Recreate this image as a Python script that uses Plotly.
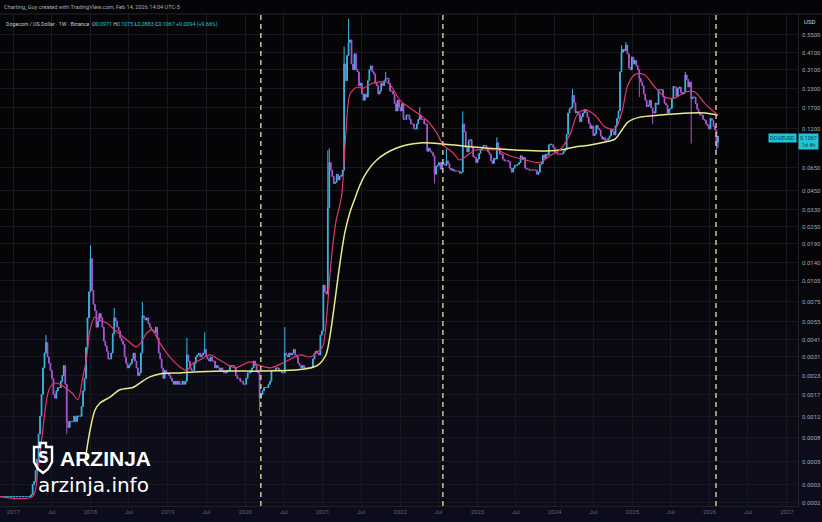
import math
import pandas as pd
import plotly.graph_objects as go

# ---------------- weekly closes (DOGE/USD, log chart) ----------------
close_2016 = [0.00033, 0.00033, 0.00033, 0.00033, 0.00033, 0.00033, 0.00033, 0.00033, 0.00033]
close_2017 = [0.00033, 0.00033, 0.00033, 0.00033, 0.00033,
              0.00033, 0.00033, 0.00033, 0.00033,
              0.00033, 0.00033, 0.00033, 0.00034,
              0.0004, 0.00042, 0.0005, 0.0006,
              0.0009, 0.0012, 0.0017, 0.0026, 0.0033,
              0.0039, 0.0031, 0.0028, 0.0025,
              0.0022, 0.0017, 0.0016, 0.0018, 0.0019,
              0.0019, 0.0021, 0.0023, 0.0027,
              0.0020, 0.0011, 0.0010, 0.0011,
              0.0011, 0.0011, 0.0012, 0.0011, 0.0012,
              0.0012, 0.0012, 0.0014, 0.0018,
              0.0022, 0.0036, 0.0058, 0.0088]
close_2018 = [0.0150, 0.0090, 0.0072, 0.0065, 0.0050,
              0.0055, 0.0062, 0.0058, 0.0050,
              0.0040, 0.0037, 0.0034, 0.0030,
              0.0030, 0.0033, 0.0045, 0.0058, 0.0055,
              0.0050, 0.0047, 0.0042, 0.0040,
              0.0038, 0.0031, 0.0028, 0.0026,
              0.0027, 0.0028, 0.0030, 0.0033, 0.0029,
              0.0026, 0.0023, 0.0024, 0.0033,
              0.0060, 0.0058, 0.0056, 0.0058,
              0.0053, 0.0050, 0.0048, 0.0047, 0.0046,
              0.0050, 0.0042, 0.0033, 0.0030,
              0.0026, 0.0022, 0.0025, 0.0024, 0.0024]
close_2019 = [0.0023, 0.0022, 0.0021, 0.0020,
              0.0021, 0.0020, 0.0021, 0.0020,
              0.0020, 0.0021, 0.0020, 0.0021,
              0.0032, 0.0029, 0.0026, 0.0025, 0.0025,
              0.0028, 0.0031, 0.0032, 0.0033,
              0.0031, 0.0032, 0.0033, 0.0035,
              0.0031, 0.0030, 0.0029, 0.0031, 0.0029,
              0.0029, 0.0026, 0.0027, 0.0026,
              0.0025, 0.0026, 0.0025, 0.0024, 0.0024,
              0.0025, 0.0025, 0.0027, 0.0027,
              0.0027, 0.0026, 0.0023, 0.0022,
              0.0022, 0.0021, 0.0021, 0.0020, 0.0020]
close_2020 = [0.0022, 0.0024, 0.0024, 0.0025,
              0.0026, 0.0029, 0.0027, 0.0025,
              0.0024, 0.0016, 0.0017, 0.0018, 0.0019,
              0.0019, 0.0019, 0.0020, 0.0021,
              0.0025, 0.0025, 0.0025, 0.0026,
              0.0026, 0.0025, 0.0025, 0.0024, 0.0024,
              0.0033, 0.0032, 0.0031, 0.0033,
              0.0032, 0.0033, 0.0035, 0.0032, 0.0031,
              0.0028, 0.0027, 0.0026, 0.0027,
              0.0026, 0.0026, 0.0026, 0.0026,
              0.0026, 0.0026, 0.0030, 0.0033, 0.0034,
              0.0033, 0.0032, 0.0044, 0.0047]
close_2021 = [0.0098, 0.0088, 0.0085, 0.0340,
              0.0700, 0.0620, 0.0560, 0.0500,
              0.0510, 0.0580, 0.0530, 0.0560, 0.0570,
              0.0620, 0.3400, 0.2600, 0.3900,
              0.4800, 0.5000, 0.3400, 0.3100, 0.4000,
              0.3100, 0.3000, 0.2400, 0.2500,
              0.2100, 0.1900, 0.2100, 0.2000,
              0.2600, 0.3100, 0.3300, 0.3000, 0.2900,
              0.2500, 0.2400, 0.2100, 0.2200,
              0.2500, 0.2400, 0.2600, 0.2700,
              0.2700, 0.2500, 0.2200, 0.2200, 0.2100,
              0.1800, 0.1600, 0.1900, 0.1700]
close_2022 = [0.1600, 0.1800, 0.1400, 0.1400, 0.1500,
              0.1500, 0.1400, 0.1300, 0.1300,
              0.1200, 0.1200, 0.1300, 0.1400,
              0.1500, 0.1400, 0.1400, 0.1300,
              0.1300, 0.0840, 0.0880, 0.0840, 0.0820,
              0.0780, 0.0580, 0.0660, 0.0670,
              0.0700, 0.0630, 0.0700, 0.0680,
              0.0670, 0.0720, 0.0690, 0.0640, 0.0620,
              0.0630, 0.0610, 0.0610, 0.0610,
              0.0610, 0.0590, 0.0600, 0.1300, 0.1150,
              0.0890, 0.0830, 0.1000, 0.1010,
              0.0900, 0.0770, 0.0760, 0.0700]
close_2023 = [0.0740, 0.0810, 0.0860, 0.0890, 0.0920,
              0.0920, 0.0870, 0.0830, 0.0800,
              0.0720, 0.0690, 0.0750, 0.0740,
              0.0960, 0.0880, 0.0800, 0.0800,
              0.0740, 0.0720, 0.0720, 0.0720, 0.0710,
              0.0640, 0.0600, 0.0640, 0.0670,
              0.0670, 0.0680, 0.0700, 0.0780, 0.0740,
              0.0760, 0.0640, 0.0630, 0.0630,
              0.0620, 0.0620, 0.0620, 0.0620,
              0.0620, 0.0580, 0.0600, 0.0680, 0.0690,
              0.0790, 0.0750, 0.0800, 0.0790,
              0.0930, 0.0940, 0.0930, 0.0890]
close_2024 = [0.0820, 0.0820, 0.0800, 0.0800, 0.0800,
              0.0810, 0.0840, 0.0860, 0.1100,
              0.1550, 0.1660, 0.1700, 0.2060,
              0.1820, 0.1550, 0.1580, 0.1520, 0.1350,
              0.1460, 0.1550, 0.1640, 0.1560,
              0.1440, 0.1310, 0.1210, 0.1260,
              0.1080, 0.1110, 0.1270, 0.1210, 0.1180,
              0.1070, 0.1020, 0.1040, 0.1000,
              0.1000, 0.1030, 0.1070, 0.1190, 0.1150,
              0.1090, 0.1260, 0.1420, 0.1600,
              0.3000, 0.4100, 0.4300, 0.4200,
              0.4600, 0.4000, 0.3200, 0.3100, 0.3800]
close_2025 = [0.3400, 0.3600, 0.3300, 0.3100,
              0.2700, 0.2550, 0.2400, 0.2100,
              0.1900, 0.1720, 0.1750, 0.1900, 0.1680,
              0.1580, 0.1550, 0.1820, 0.1780,
              0.2250, 0.2250, 0.2250, 0.2000,
              0.1810, 0.1760, 0.1550, 0.1650, 0.1670,
              0.1950, 0.2370, 0.2350, 0.2020,
              0.2300, 0.2350, 0.2150, 0.2100,
              0.2160, 0.2850, 0.2650, 0.2350, 0.2550,
              0.1950, 0.2000, 0.2000, 0.1800,
              0.1650, 0.1550, 0.1500, 0.1500,
              0.1400, 0.1380, 0.1300, 0.1270, 0.1200]
close_2026 = [0.1420, 0.1380, 0.1250, 0.1180, 0.0971, 0.1067]

# notable wicks (week start -> extreme)
wick_high = {"2017-06-05": 0.0044, "2018-01-01": 0.0186, "2018-04-23": 0.0068,
             "2018-09-03": 0.0075, "2019-04-01": 0.0042, "2019-06-24": 0.0046,
             "2020-07-06": 0.0050, "2021-01-25": 0.085, "2021-02-01": 0.088,
             "2021-04-12": 0.45, "2021-05-03": 0.70, "2021-10-25": 0.30,
             "2022-04-04": 0.17, "2022-08-08": 0.088, "2022-10-24": 0.159,
             "2023-04-03": 0.105, "2024-03-25": 0.228, "2024-11-11": 0.46,
             "2024-12-02": 0.484, "2025-09-08": 0.30, "2026-02-09": 0.1075}
wick_low = {"2017-09-11": 0.0009, "2020-03-09": 0.0013, "2022-06-13": 0.050,
            "2025-02-03": 0.20, "2025-04-07": 0.13, "2025-10-06": 0.095,
            "2026-02-02": 0.085, "2026-02-09": 0.0883}

# moving averages
pink_ma_dates = ["2016-10-31", "2017-04-03", "2017-04-28", "2017-05-17", "2017-06-10", "2017-06-24",
                 "2017-07-17", "2017-08-10", "2017-09-03", "2017-10-06", "2017-11-03", "2017-11-26",
                 "2017-12-12", "2017-12-30", "2018-01-22", "2018-02-15", "2018-03-19", "2018-04-26",
                 "2018-06-22", "2018-08-08", "2018-09-24", "2018-10-18", "2018-11-24", "2019-01-10",
                 "2019-02-27", "2019-04-01", "2019-04-29", "2019-06-01", "2019-07-18", "2019-09-03",
                 "2019-11-13", "2020-01-23", "2020-03-11", "2020-04-28", "2020-07-07", "2020-09-16",
                 "2020-11-02", "2020-12-09", "2021-01-02", "2021-01-20", "2021-02-05", "2021-02-20",
                 "2021-03-06", "2021-03-20", "2021-04-01", "2021-04-20", "2021-05-10", "2021-06-12",
                 "2021-07-10", "2021-08-26", "2021-10-31", "2021-11-23", "2022-01-01", "2022-02-17",
                 "2022-04-05", "2022-05-08", "2022-06-24", "2022-07-23", "2022-09-08", "2022-10-10",
                 "2022-11-07", "2022-12-20", "2023-02-05", "2023-04-03", "2023-06-03", "2023-08-13",
                 "2023-10-23", "2023-12-09", "2024-01-25", "2024-03-13", "2024-04-15", "2024-05-22",
                 "2024-07-08", "2024-08-25", "2024-10-11", "2024-11-13", "2024-12-11", "2025-01-18",
                 "2025-03-01", "2025-04-17", "2025-06-04", "2025-07-21", "2025-09-06", "2025-10-23",
                 "2025-12-10", "2026-02-09"]
pink_ma_values = [0.00033, 0.00033, 0.00051, 0.00086, 0.00163, 0.0019,
                  0.00204, 0.0020, 0.0019, 0.00174, 0.00156, 0.00225,
                  0.00295, 0.00478, 0.00588, 0.0056, 0.00534, 0.00478,
                  0.00407, 0.00364, 0.00455, 0.00478, 0.00388, 0.0031,
                  0.00264, 0.0025, 0.0028, 0.00295, 0.0032, 0.00295,
                  0.0026, 0.00286, 0.0027, 0.0026, 0.00286, 0.0032,
                  0.0031, 0.00336, 0.0037, 0.006, 0.012, 0.02,
                  0.028, 0.034, 0.042, 0.11, 0.21, 0.235,
                  0.23, 0.25, 0.255, 0.235, 0.19, 0.168,
                  0.15, 0.138, 0.112, 0.093, 0.082, 0.073,
                  0.077, 0.0856, 0.0856, 0.0856, 0.078, 0.073,
                  0.070, 0.078, 0.0856, 0.11, 0.15, 0.163,
                  0.15, 0.124, 0.12, 0.157, 0.243, 0.29,
                  0.285, 0.235, 0.20, 0.197, 0.217, 0.217,
                  0.18, 0.15]
yellow_ma_dates = ["2017-12-05", "2017-12-30", "2018-01-22", "2018-02-15", "2018-04-03", "2018-05-20",
                   "2018-07-20", "2018-08-22", "2018-10-08", "2018-11-24", "2019-02-27", "2019-06-01",
                   "2019-10-20", "2020-03-11", "2020-07-30", "2020-11-02", "2020-12-09", "2021-01-16",
                   "2021-02-05", "2021-02-28", "2021-03-24", "2021-04-16", "2021-05-10", "2021-06-03",
                   "2021-06-26", "2021-07-19", "2021-09-13", "2021-12-16", "2022-04-05", "2022-07-23",
                   "2022-10-24", "2023-04-17", "2023-10-23", "2024-01-25", "2024-04-05", "2024-06-16",
                   "2024-08-25", "2024-10-11", "2024-11-13", "2024-12-11", "2025-02-06", "2025-05-12",
                   "2025-09-30", "2025-12-10", "2026-02-09"]
yellow_ma_values = [0.00057, 0.00096, 0.00132, 0.00148, 0.00163, 0.00183,
                    0.0019, 0.00204, 0.00225, 0.00236, 0.0024, 0.00244,
                    0.00247, 0.00247, 0.0025, 0.0026, 0.00272, 0.0032,
                    0.0044, 0.0077, 0.0142, 0.023, 0.0317, 0.0397,
                    0.0488, 0.0573, 0.073, 0.0884, 0.0958, 0.0943,
                    0.0913, 0.087, 0.0843, 0.0856, 0.0898, 0.0928,
                    0.0973, 0.102, 0.118, 0.134, 0.145, 0.150,
                    0.155, 0.155, 0.150]

cycle_lines = ["2020-03-15", "2022-07-22", "2026-01-31"]

y_tick_values = [0.55, 0.41, 0.31, 0.23, 0.17, 0.12, 0.065, 0.045, 0.033, 0.025, 0.019, 0.014,
                 0.0105, 0.0075, 0.0055, 0.0041, 0.0031, 0.0023, 0.0017, 0.0012, 0.00085,
                 0.00058, 0.0004, 0.0003]
y_tick_labels = ["0.5500", "0.4100", "0.3100", "0.2300", "0.1700", "0.1200", "0.0650", "0.0450",
                 "0.0330", "0.0250", "0.0190", "0.0140", "0.0105", "0.0075", "0.0055", "0.0041",
                 "0.0031", "0.0023", "0.0017", "0.0012", "0.0008", "0.0005", "0.0003", "0.0002"]
x_tick_dates = ["2017-01-01", "2017-07-01", "2018-01-01", "2018-07-01", "2019-01-01", "2019-07-01",
                "2020-01-01", "2020-07-01", "2021-01-01", "2021-07-01", "2022-01-01", "2022-07-01",
                "2023-01-01", "2023-07-01", "2024-01-01", "2024-07-01", "2025-01-01", "2025-07-01",
                "2026-01-01", "2026-07-01", "2027-01-01"]
x_tick_labels = ["2017", "Jul", "2018", "Jul", "2019", "Jul", "2020", "Jul", "2021", "Jul", "2022",
                 "Jul", "2023", "Jul", "2024", "Jul", "2025", "Jul", "2026", "Jul", "2027"]

# ---------------- build OHLC ----------------
closes = (close_2016 + close_2017 + close_2018 + close_2019 + close_2020 + close_2021 +
          close_2022 + close_2023 + close_2024 + close_2025 + close_2026)
week_dates = pd.date_range("2016-10-31", periods=len(closes), freq="W-MON")
opens = [closes[0]] + closes[:-1]
highs, lows = [], []
for d, o, c in zip(week_dates, opens, closes):
    k = d.strftime("%Y-%m-%d")
    highs.append(max(o, c, wick_high.get(k, 0)))
    lows.append(min(o, c, wick_low.get(k, 1e9)))

UP = "#3cb6e3"
DOWN = "#ad56d6"
W, H = 822, 522
ML, MR, MT, MB = 0, 24, 14, 16
PW, PH = W - ML - MR, H - MT - MB


def px(x):
    return (x - ML) / PW


def py(y):
    return (H - MB - y) / PH


fig = go.Figure()

fig.add_trace(go.Candlestick(
    x=week_dates, open=opens, high=highs, low=lows, close=closes,
    increasing=dict(line=dict(color=UP, width=1), fillcolor=UP),
    decreasing=dict(line=dict(color=DOWN, width=1), fillcolor=DOWN),
    whiskerwidth=0, showlegend=False, hoverinfo="skip"))

fig.add_trace(go.Scatter(x=yellow_ma_dates, y=yellow_ma_values, mode="lines",
                         line=dict(color="#ecea8e", width=1.5, shape="spline", smoothing=0.8),
                         showlegend=False, hoverinfo="skip"))
fig.add_trace(go.Scatter(x=pink_ma_dates, y=pink_ma_values, mode="lines",
                         line=dict(color="#e2386a", width=1.2, shape="spline", smoothing=0.8),
                         showlegend=False, hoverinfo="skip"))

shapes = []
# dark-to-navy background gradient
for i in range(12):
    shapes.append(dict(type="rect", xref="paper", yref="paper", x0=-0.01, x1=1.05,
                       y0=-0.05, y1=py(506 - i * 22), layer="below", line=dict(width=0),
                       fillcolor="rgba(26,26,48,0.085)"))
# cycle dashed lines
for d in cycle_lines:
    shapes.append(dict(type="line", xref="x", yref="paper", x0=d, x1=d, y0=0, y1=1,
                       line=dict(color="#d6d49c", width=1.4, dash="5px,4px"), layer="above"))
# header separator
shapes.append(dict(type="line", xref="paper", yref="paper", x0=0, x1=px(W), y0=1, y1=1,
                   line=dict(color="#26262c", width=1)))
# shield logo
shield_px = [(34, 447), (40, 447), (40, 443), (46, 443), (46, 447), (52, 447), (52, 462),
             (48, 469), (43, 473), (38, 469), (34, 462)]
path = "M " + " L ".join(f"{px(a):.5f},{py(b):.5f}" for a, b in shield_px) + " Z"
shapes.append(dict(type="path", xref="paper", yref="paper", path=path,
                   line=dict(color="white", width=2.4), fillcolor="rgba(0,0,0,0)", layer="above"))

annotations = [
    dict(xref="paper", yref="paper", x=px(2), y=py(7), xanchor="left", yanchor="middle",
         text="Charting_Guy created with TradingView.com, Feb 14, 2026 14:04 UTC-5",
         showarrow=False, font=dict(family="Roboto", size=5.6, color="#a9abb2")),
    dict(xref="paper", yref="paper", x=px(4), y=py(24), xanchor="left", yanchor="middle",
         text=("Dogecoin / US Dollar · 1W · Binance  "
               "O<span style='color:#26c6da'>0.0971</span> H<span style='color:#26c6da'>0.1075</span> "
               "L<span style='color:#26c6da'>0.0883</span> C<span style='color:#26c6da'>0.1067</span> "
               "<span style='color:#26c6da'>+0.0094 (+9.66%)</span>"),
         showarrow=False, font=dict(family="Roboto", size=5.3, color="#c8cad0")),
    dict(xref="paper", yref="paper", x=px(802), y=py(22), xanchor="left", yanchor="middle",
         text="USD", showarrow=False, font=dict(family="Roboto", size=6, color="#d0d2d8")),
    dict(xref="paper", yref="y", x=px(797), y=math.log10(closes[-1]), xanchor="right",
         yanchor="middle", yshift=-2, text="DOGEUSD", showarrow=False, bgcolor="#22c3d6",
         borderpad=1, font=dict(family="Roboto", size=5.5, color="#083a42")),
    dict(xref="paper", yref="paper", x=px(43), y=py(458), xanchor="center", yanchor="middle",
         text="<b>S</b>", showarrow=False, font=dict(family="DejaVu Sans", size=15, color="white")),
    dict(xref="paper", yref="paper", x=px(58), y=py(458), xanchor="left", yanchor="middle",
         text="<b>ARZINJA</b>", showarrow=False,
         font=dict(family="Liberation Sans", size=21, color="white")),
    dict(xref="paper", yref="paper", x=px(36), y=py(485), xanchor="left", yanchor="middle",
         text="arzinja.info", showarrow=False,
         font=dict(family="DejaVu Sans", size=20, color="white")),
]
# price-scale labels
for v, t in zip(y_tick_values, y_tick_labels):
    annotations.append(dict(xref="paper", yref="y", x=px(800), y=math.log10(v), xanchor="left",
                            yanchor="middle", text=t, showarrow=False,
                            font=dict(family="Roboto", size=6, color="#a3a6ae")))
# last-price tag (drawn over the scale labels)
annotations.append(dict(xref="paper", yref="y", x=px(798), y=math.log10(closes[-1]), xanchor="left",
                        yanchor="top", yshift=3, text=f"{closes[-1]:.4f}<br>1d 4h", showarrow=False,
                        bgcolor="#22c3d6", borderpad=1, align="center",
                        font=dict(family="Roboto", size=5.5, color="#083a42")))

fig.update_layout(
    width=W, height=H, margin=dict(l=ML, r=MR, t=MT, b=MB),
    paper_bgcolor="#050507", plot_bgcolor="rgba(0,0,0,0)",
    shapes=shapes, annotations=annotations, showlegend=False,
    xaxis=dict(type="date", range=["2016-10-31", "2027-02-22"], rangeslider=dict(visible=False),
               tickvals=x_tick_dates, ticktext=x_tick_labels, showgrid=True,
               gridcolor="#18181e", gridwidth=1, zeroline=False, showline=True,
               linecolor="#1f1f26", ticks="", ticklen=0,
               tickfont=dict(family="Roboto", size=6, color="#5e616b")),
    yaxis=dict(type="log", side="right",
               range=[math.log10(0.000284), math.log10(0.758)],
               tickvals=y_tick_values, showticklabels=False, showgrid=True,
               gridcolor="#18181e", gridwidth=1, zeroline=False, showline=True,
               linecolor="#22222a", ticks=""),
)

fig.write_html("out.html", config={"displayModeBar": False},
               post_script="document.body.style.margin='0';document.body.style.padding='0';")
